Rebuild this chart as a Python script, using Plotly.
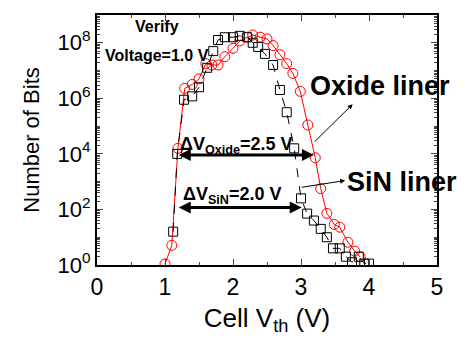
import plotly.graph_objects as go

# SiN liner (squares): cell Vth (V), log10(number of bits)
sin_vth = [1.12, 1.18, 1.28, 1.40, 1.50, 1.62, 1.71, 1.78, 1.88, 2.00, 2.10, 2.21, 2.29, 2.37,
           2.47, 2.59, 2.69, 2.79, 2.90, 3.00, 3.09, 3.19, 3.29, 3.38, 3.47, 3.57, 3.66, 3.75,
           3.85, 3.93, 4.00]
sin_log = [1.2, 4.0, 5.95, 6.07, 6.4, 7.1, 7.7, 8.1, 8.2, 8.2, 8.25, 8.2, 8.0, 7.85,
           7.6, 7.2, 6.3, 5.5, 4.2, 2.4, 1.85, 1.6, 1.3, 1.0, 0.6, 0.6, 0.3, 0.1,
           0.3, 0.05, 0.05]

# Oxide liner (circles)
ox_vth = [1.00, 1.10, 1.19, 1.29, 1.40, 1.50, 1.60, 1.69, 1.78, 1.88, 2.00, 2.10, 2.21, 2.29,
          2.40, 2.50, 2.59, 2.69, 2.79, 2.88, 2.99, 3.10, 3.21, 3.29, 3.38, 3.49, 3.57, 3.69,
          3.79, 3.87]
ox_log = [0.04, 0.71, 4.2, 6.36, 6.5, 6.7, 7.25, 7.2, 7.2, 7.5, 7.8, 8.07, 8.2, 8.28,
          8.2, 8.14, 7.9, 7.57, 7.25, 6.9, 6.25, 5.04, 3.86, 2.75, 1.86, 1.46, 1.36, 0.82,
          0.5, 0.29]

y_tick_exp = [0, 2, 4, 6, 8]
y_tick_vals = [10 ** e for e in y_tick_exp]
y_tick_text = ["10<sup>%d</sup>" % e for e in y_tick_exp]

sin_bits = [10 ** v for v in sin_log]
ox_bits = [10 ** v for v in ox_log]

FONT = "Liberation Sans"

fig = go.Figure()
fig.add_trace(go.Scatter(x=ox_vth, y=ox_bits, mode="lines+markers", name="Oxide liner",
                         line=dict(color="red", width=1),
                         marker=dict(symbol="circle-open", size=10, color="red", line=dict(width=1))))
fig.add_trace(go.Scatter(x=sin_vth, y=sin_bits, mode="lines+markers", name="SiN liner",
                         line=dict(color="black", width=1, dash="dash"),
                         marker=dict(symbol="square-open", size=9, color="black", line=dict(width=1))))

minor_vals = []
for d in range(0, 9):
    for m in range(2, 10):
        minor_vals.append(m * 10 ** d)
minor_vals += [10 ** d for d in range(1, 9, 2)]
minor_vals.sort()

# the page body has an 8px margin, so the figure is made 8px smaller
fig.update_layout(
    width=457, height=334,
    margin=dict(l=89, r=28, t=5, b=77),
    paper_bgcolor="white", plot_bgcolor="white",
    showlegend=False,
    font=dict(family=FONT, color="black"),
    xaxis=dict(range=[0, 5], dtick=1, ticks="inside", ticklen=6, tickwidth=1,
               showline=True, linecolor="black", linewidth=2, mirror="allticks",
               showgrid=False, zeroline=False, tickfont=dict(size=23),
               minor=dict(dtick=0.5, ticks="inside", ticklen=3),
               title=dict(text="Cell V<sub>th</sub> (V)", font=dict(size=26), standoff=10)),
    yaxis=dict(type="log", range=[0, 9], tickmode="array", tickvals=y_tick_vals,
               ticktext=y_tick_text,
               ticks="inside", ticklen=6, tickwidth=1,
               showline=True, linecolor="black", linewidth=2, mirror="allticks",
               showgrid=False, zeroline=False, tickfont=dict(size=22),
               minor=dict(tickmode="array", tickvals=minor_vals, ticks="inside", ticklen=3),
               title=dict(text="Number of Bits", font=dict(size=22), standoff=12)),
)

bold = dict(family=FONT, color="black")
# annotation y positions on a log axis are given in log10 units
fig.add_annotation(x=0.88, y=8.57, xref="x", yref="y", text="<b>Verify</b>",
                   showarrow=False, font=dict(size=16, **bold))
fig.add_annotation(x=0.88, y=7.54, xref="x", yref="y", text="<b>Voltage=1.0 V</b>",
                   showarrow=False, font=dict(size=16, **bold))

# Delta V arrows
fig.add_annotation(x=3.19, y=3.96, ax=1.18, ay=3.96, xref="x", yref="y",
                   axref="x", ayref="y", text="", showarrow=True, arrowhead=2,
                   arrowside="end+start", arrowwidth=3, arrowsize=0.8, arrowcolor="black")
fig.add_annotation(x=3.01, y=2.07, ax=1.18, ay=2.07, xref="x", yref="y",
                   axref="x", ayref="y", text="", showarrow=True, arrowhead=2,
                   arrowside="end+start", arrowwidth=3, arrowsize=0.8, arrowcolor="black")
fig.add_annotation(x=1.19, y=4.3, xref="x", yref="y", xanchor="left",
                   text="<b>ΔV<sub>Oxide</sub>=2.5 V</b>", showarrow=False,
                   font=dict(size=18, **bold))
fig.add_annotation(x=1.24, y=2.5, xref="x", yref="y", xanchor="left",
                   text="<b>ΔV<sub>SiN</sub>=2.0 V</b>", showarrow=False,
                   font=dict(size=18, **bold))

# Liner labels with arrows
fig.add_annotation(x=4.16, y=6.46, xref="x", yref="y", text="<b>Oxide liner</b>",
                   showarrow=False, font=dict(size=27, **bold))
fig.add_annotation(x=3.76, y=5.79, ax=3.18, ay=4.39, xref="x", yref="y",
                   axref="x", ayref="y", text="", showarrow=True, arrowhead=2,
                   arrowwidth=1, arrowsize=1, arrowcolor="black")
fig.add_annotation(x=4.49, y=3.0, xref="x", yref="y", text="<b>SiN liner</b>",
                   showarrow=False, font=dict(size=27, **bold))
fig.add_annotation(x=3.65, y=3.04, ax=2.99, ay=2.79, xref="x", yref="y",
                   axref="x", ayref="y", text="", showarrow=True, arrowhead=2,
                   arrowwidth=1, arrowsize=1, arrowcolor="black")

fig.write_html("out.html")
